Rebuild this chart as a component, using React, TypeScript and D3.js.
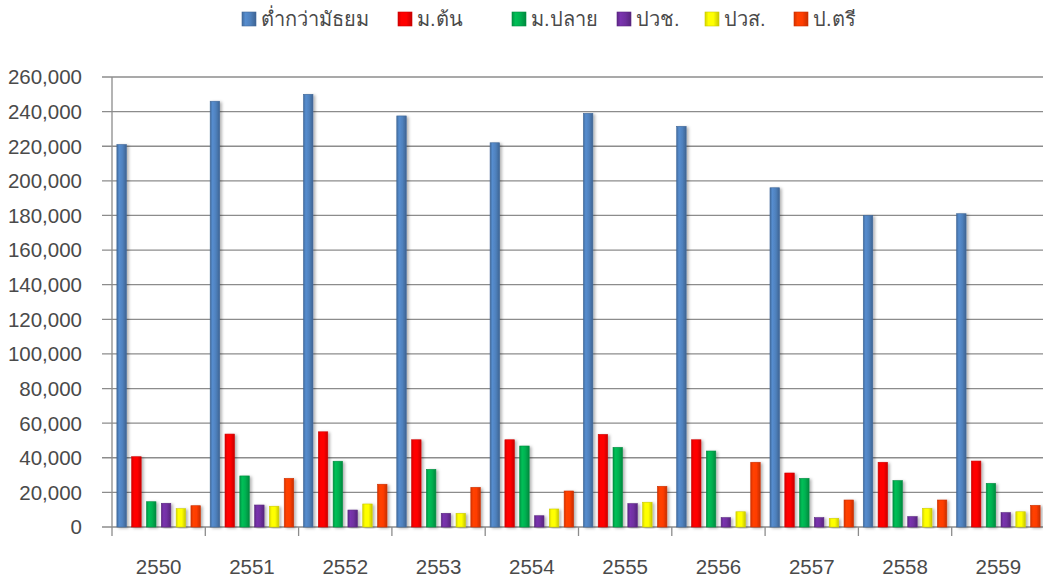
import * as d3 from 'd3'

const years = ['2550', '2551', '2552', '2553', '2554', '2555', '2556', '2557', '2558', '2559']
const seriesNames = ['ต่ำกว่ามัธยม', 'ม.ต้น', 'ม.ปลาย', 'ปวช.', 'ปวส.', 'ป.ตรี']
const belowSecondary = [221000, 246000, 250000, 237500, 222000, 239000, 231500, 196000, 180000, 181000]
const lowerSecondary = [40600, 53700, 55000, 50400, 50400, 53500, 50400, 31200, 37400, 38100]
const upperSecondary = [14600, 29500, 38000, 33300, 46800, 46000, 43900, 28100, 26800, 25200]
const vocational = [13700, 12700, 9800, 7900, 6500, 13500, 5400, 5400, 6000, 8300]
const highVocational = [10600, 12000, 13300, 7900, 10400, 14300, 8800, 5000, 10800, 8800]
const bachelor = [12300, 28100, 24700, 22900, 20800, 23500, 37400, 15600, 15600, 12500]
const yTicks = d3.range(0, 260001, 20000)

const seriesValues = [belowSecondary, lowerSecondary, upperSecondary, vocational, highVocational, bachelor]
const colors = ['#4f81bd', '#ff0000', '#00b050', '#7030a0', '#ffff00', '#ff3c00']

const W = 1043
const H = 579
const margin = { top: 77, right: -2, bottom: 52, left: 112 }
const font = '"Liberation Sans", Arial, sans-serif'
const textColor = '#4a4a4a'

export default function App() {
  const x = d3.scaleBand().domain(years).range([margin.left, W - margin.right]).padding(0)
  const inner = d3.scaleBand()
    .domain(seriesNames)
    .range([0, x.bandwidth()])
    .paddingInner(0.36)
    .paddingOuter(0.33)
  const y = d3.scaleLinear().domain([0, 260000]).range([H - margin.bottom, margin.top])

  const legendX = [242, 398, 512, 617, 705, 794]

  return (
    <svg width={W} height={H} style={{ position: 'absolute', left: 0, top: 0 }} fontFamily={font}>
      <defs>
        {colors.map((c, i) => (
          <linearGradient key={i} id={`g${i}`} x1="0" x2="1" y1="0" y2="0">
            <stop offset="0" stopColor={d3.color(c)!.darker(0.5).toString()} />
            <stop offset="0.25" stopColor={d3.color(c)!.brighter(0.25).toString()} />
            <stop offset="0.6" stopColor={c} />
            <stop offset="1" stopColor={d3.color(c)!.darker(0.7).toString()} />
          </linearGradient>
        ))}
        <filter id="shadow" x="-50%" y="-5%" width="200%" height="110%">
          <feDropShadow dx="2" dy="1" stdDeviation="1.5" floodColor="#000" floodOpacity="0.3" />
        </filter>
      </defs>
      <rect width={W} height={H} fill="#fff" />

      {/* gridlines + y labels */}
      {yTicks.map(t => (
        <g key={t}>
          <line x1={margin.left - 10} x2={W} y1={y(t)} y2={y(t)} stroke="#8c8c8c" strokeWidth={1.3} />
          <text x={82} y={y(t)} dy="0.36em" textAnchor="end" fontSize={20.5} fill={textColor}>
            {d3.format(',')(t)}
          </text>
        </g>
      ))}

      {/* y axis */}
      <line x1={margin.left} x2={margin.left} y1={margin.top} y2={y(0)} stroke="#8c8c8c" strokeWidth={1.3} />

      {/* x ticks */}
      {years.map(yr => (
        <g key={yr}>
          <line x1={x(yr)!} x2={x(yr)!} y1={y(0)} y2={y(0) + 9} stroke="#8c8c8c" strokeWidth={1.3} />
          <text x={x(yr)! + x.bandwidth() / 2} y={574} textAnchor="middle" fontSize={20.5} fill={textColor}>{yr}</text>
        </g>
      ))}

      {/* bars */}
      {seriesValues.map((vals, si) => (
        <g key={si} filter="url(#shadow)">
          {vals.map((v, i) => (
            <rect
              key={i}
              x={x(years[i])! + inner(seriesNames[si])!}
              y={y(v)}
              width={inner.bandwidth()}
              height={y(0) - y(v)}
              fill={`url(#g${si})`}
              stroke={d3.color(colors[si])!.darker(0.6).toString()}
              strokeWidth={0.6}
            />
          ))}
        </g>
      ))}

      {/* legend */}
      {seriesNames.map((name, i) => (
        <g key={name} transform={`translate(${legendX[i]},12)`}>
          <rect width={14} height={14} fill={`url(#g${i})`} stroke={d3.color(colors[i])!.darker(0.6).toString()} strokeWidth={0.6} />
          <text x={19} y={7} dy="0.36em" fontSize={20} fill={textColor}>{name}</text>
        </g>
      ))}
    </svg>
  )
}
